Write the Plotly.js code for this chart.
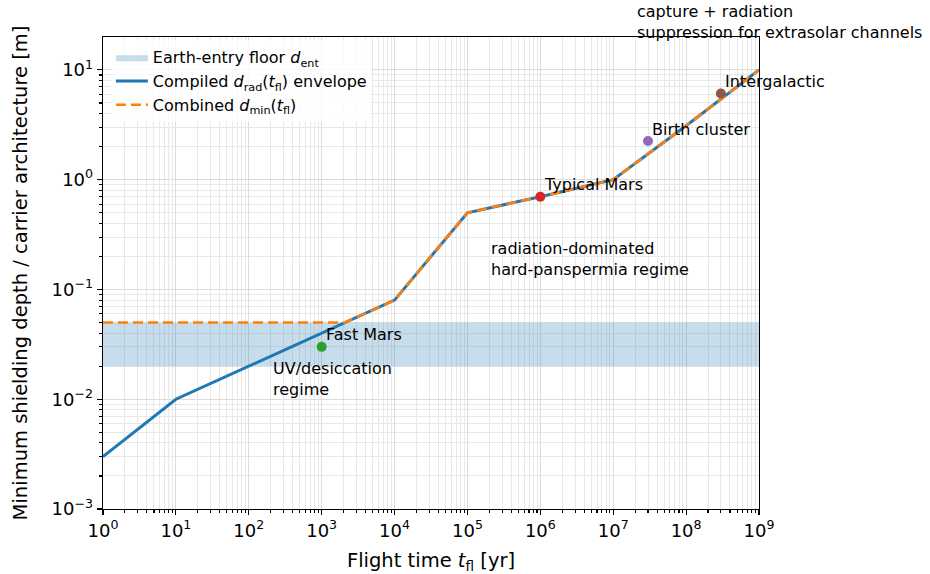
<!DOCTYPE html>
<html>
<head>
<meta charset="utf-8">
<script src="https://cdn.plot.ly/plotly-3.0.1.min.js"></script>
<style>body{margin:0;background:#fff;} #chart{width:930px;height:574px;}</style>
</head>
<body>
<div id="chart"></div>
<script>
// Compiled radiation envelope d_rad(t_fl)
const envT = [1, 10, 1e4, 1e5, 1e6, 1e7, 1e8, 1e9];
const envD = [0.003, 0.01, 0.08, 0.5, 0.7, 1.0, 3.1, 10];
// Combined d_min(t_fl)
const minT = [1, 2.1e3, 1e4, 1e5, 1e6, 1e7, 1e8, 1e9];
const minD = [0.05, 0.05, 0.08, 0.5, 0.7, 1.0, 3.1, 10];
// Earth-entry floor band
const floorLow = 0.02;
const floorHigh = 0.05;
const floorT = [1, 1e9];
// Scenario points
const scenNames = ["Fast Mars", "Typical Mars", "Birth cluster", "Intergalactic"];
const scenT = [1e3, 1e6, 3e7, 3e8];
const scenD = [0.03, 0.7, 2.25, 6.1];
const scenColors = ["#2ca02c", "#d62728", "#9467bd", "#8c564b"];
// Regime notes (in-plot)
const noteText = ["UV/desiccation<br>regime", "radiation-dominated<br>hard-panspermia regime"];
const noteT = [200, 2e5];
const noteD = [0.0245, 0.3];
// Note above the plot
const topNote = "capture + radiation<br>suppression for extrasolar channels";
const topNoteT = 2e7;
// Tick labels
const xTickVals = [1, 10, 1e2, 1e3, 1e4, 1e5, 1e6, 1e7, 1e8, 1e9];
const xTickText = ["10<sup>0</sup>","10<sup>1</sup>","10<sup>2</sup>","10<sup>3</sup>","10<sup>4</sup>","10<sup>5</sup>","10<sup>6</sup>","10<sup>7</sup>","10<sup>8</sup>","10<sup>9</sup>"];
const yTickVals = [1e-3, 1e-2, 1e-1, 1, 10];
const yTickText = ["10<sup>\u22123</sup>","10<sup>\u22122</sup>","10<sup>\u22121</sup>","10<sup>0</sup>","10<sup>1</sup>"];

function minorVals(lo, hi) {
  const v = [];
  for (let e = lo; e < hi; e++) for (let m = 2; m <= 9; m++) v.push(m * Math.pow(10, e));
  return v;
}

const traces = [
  {
    x: [floorT[0], floorT[1], floorT[1], floorT[0], floorT[0]],
    y: [floorLow, floorLow, floorHigh, floorHigh, floorLow],
    type: 'scatter', mode: 'lines', fill: 'toself',
    fillcolor: 'rgba(31,119,180,0.25)', line: {width: 0, color: 'rgba(31,119,180,0)'},
    name: 'Earth-entry floor <i>d</i><sub>ent</sub>', hoverinfo: 'skip'
  },
  {
    x: envT, y: envD, type: 'scatter', mode: 'lines',
    line: {color: '#1f77b4', width: 3},
    name: 'Compiled <i>d</i><sub>rad</sub>(<i>t</i><sub>fl</sub>) envelope'
  },
  {
    x: minT, y: minD, type: 'scatter', mode: 'lines',
    line: {color: '#ff7f0e', width: 2.6, dash: '10px,5px'},
    name: 'Combined <i>d</i><sub>min</sub>(<i>t</i><sub>fl</sub>)'
  },
  {
    x: scenT, y: scenD, type: 'scatter', mode: 'markers',
    marker: {color: scenColors, size: 10},
    showlegend: false, text: scenNames
  }
];

const annotations = [];
for (let i = 0; i < scenNames.length; i++) {
  annotations.push({
    x: Math.log10(scenT[i]), y: Math.log10(scenD[i]), xref: 'x', yref: 'y',
    text: scenNames[i], showarrow: false, xanchor: 'left', yanchor: 'middle',
    xshift: 2, yshift: 12, font: {size: 16, color: '#000'}
  });
}
for (let i = 0; i < noteText.length; i++) {
  annotations.push({
    x: Math.log10(noteT[i]), y: Math.log10(noteD[i]), xref: 'x', yref: 'y',
    text: noteText[i], showarrow: false, xanchor: 'left', yanchor: 'top', align: 'left',
    font: {size: 16, color: '#000'}
  });
}
annotations.push({
  x: Math.log10(topNoteT), y: 1.078, xref: 'x', yref: 'paper',
  text: topNote, showarrow: false, xanchor: 'left', yanchor: 'top', align: 'left',
  font: {size: 16, color: '#000'}
});

const axisCommon = {
  type: 'log', tickmode: 'array', showline: true, linecolor: '#000', linewidth: 1.3,
  mirror: true, ticks: 'outside', ticklen: 5, tickwidth: 1.1, tickcolor: '#000',
  showgrid: true, gridcolor: '#dcdcdc', gridwidth: 1, zeroline: false,
  tickfont: {size: 18, color: '#000'}
};

const layout = {
  width: 930, height: 574,
  margin: {l: 103, r: 171, t: 37, b: 65},
  paper_bgcolor: '#fff', plot_bgcolor: '#fff',
  font: {family: 'DejaVu Sans, sans-serif', color: '#000'},
  xaxis: Object.assign({}, axisCommon, {
    range: [0, 9], tickvals: xTickVals, ticktext: xTickText,
    minor: {tickmode: 'array', tickvals: minorVals(0, 9), ticks: 'outside', ticklen: 3, tickcolor: '#000', showgrid: true, gridcolor: '#e8e8e8', gridwidth: 1},
    title: {text: 'Flight time <i>t</i><sub>fl</sub> [yr]', font: {size: 19.5}, standoff: 16}
  }),
  yaxis: Object.assign({}, axisCommon, {
    range: [-3, 1.3], tickvals: yTickVals, ticktext: yTickText,
    minor: {tickmode: 'array', tickvals: minorVals(-3, 2), ticks: 'outside', ticklen: 3, tickcolor: '#000', showgrid: true, gridcolor: '#e8e8e8', gridwidth: 1},
    title: {text: 'Minimum shielding depth / carrier architecture [m]', font: {size: 19.5}, standoff: 18}
  }),
  legend: {
    x: 0.012, y: 0.993, xanchor: 'left', yanchor: 'top',
    bgcolor: 'rgba(255,255,255,0.8)', borderwidth: 0,
    font: {size: 16}, tracegroupgap: 0, itemwidth: 32
  },
  annotations: annotations,
  showlegend: true
};

Plotly.newPlot('chart', traces, layout, {displayModeBar: false, staticPlot: true});
</script>
</body>
</html>
